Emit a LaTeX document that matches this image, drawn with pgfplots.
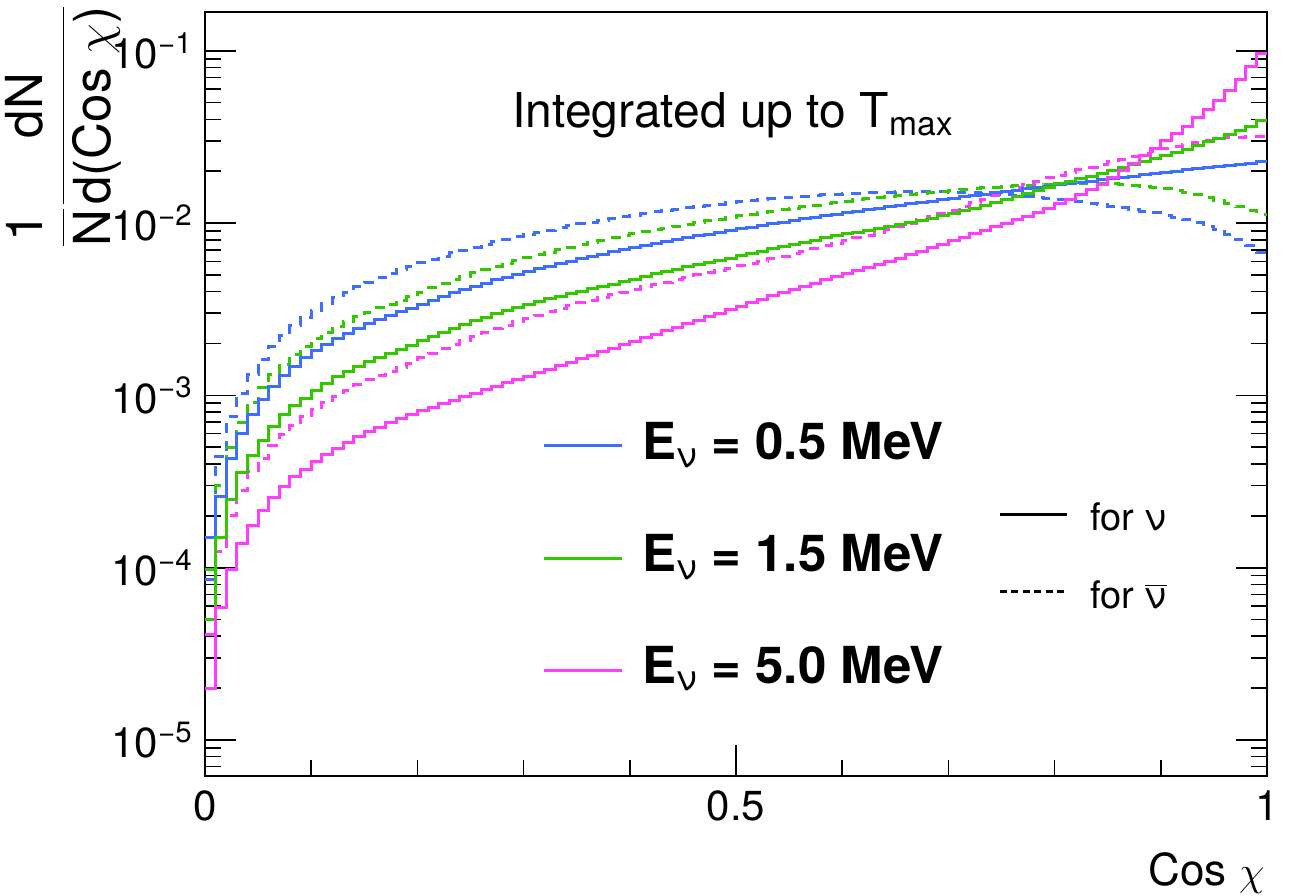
\documentclass[border=0pt]{standalone}
\usepackage{fontspec}
\setmainfont{TeX Gyre Heros}
\usepackage{pgfplots}
\usepackage{pgfplotstable}
\pgfplotsset{compat=1.18}
\definecolor{cblue}{RGB}{60,110,255}
\definecolor{cgreen}{RGB}{50,200,0}
\definecolor{cmag}{RGB}{255,60,255}
\pgfplotstableread{
x bs bd gs gd ms md
0.00 0.085e-3 0.15e-3 0.050e-3 0.097e-3 0.020e-3 0.041e-3
0.01 0.26e-3 0.44e-3 0.150e-3 0.30e-3 0.059e-3 0.124e-3
0.02 0.43e-3 0.75e-3 0.250e-3 0.50e-3 0.097e-3 0.20e-3
0.03 0.60e-3 1.03e-3 0.356e-3 0.70e-3 0.138e-3 0.28e-3
0.04 0.78e-3 1.33e-3 0.45e-3 0.91e-3 0.176e-3 0.36e-3
0.05 0.95e-3 1.62e-3 0.55e-3 1.11e-3 0.216e-3 0.43e-3
0.06 1.13e-3 1.93e-3 0.66e-3 1.32e-3 0.257e-3 0.51e-3
0.07 1.30e-3 2.23e-3 0.78e-3 1.52e-3 0.295e-3 0.59e-3
0.08 1.48e-3 2.53e-3 0.87e-3 1.73e-3 0.340e-3 0.67e-3
0.09 1.65e-3 2.83e-3 0.96e-3 1.93e-3 0.373e-3 0.75e-3
0.10 1.82e-3 3.12e-3 1.07e-3 2.13e-3 0.414e-3 0.83e-3
0.11 1.98e-3 3.41e-3 1.18e-3 2.32e-3 0.455e-3 0.91e-3
0.12 2.14e-3 3.70e-3 1.28e-3 2.50e-3 0.495e-3 0.99e-3
0.13 2.30e-3 3.98e-3 1.38e-3 2.69e-3 0.535e-3 1.07e-3
0.14 2.45e-3 4.26e-3 1.48e-3 2.87e-3 0.575e-3 1.15e-3
0.15 2.60e-3 4.54e-3 1.58e-3 3.04e-3 0.615e-3 1.23e-3
0.16 2.75e-3 4.81e-3 1.67e-3 3.22e-3 0.655e-3 1.31e-3
0.17 2.90e-3 5.08e-3 1.76e-3 3.39e-3 0.695e-3 1.38e-3
0.18 3.05e-3 5.35e-3 1.85e-3 3.57e-3 0.735e-3 1.46e-3
0.19 3.20e-3 5.62e-3 1.94e-3 3.74e-3 0.775e-3 1.54e-3
0.20 3.38e-3 5.90e-3 2.07e-3 3.97e-3 0.813e-3 1.65e-3
0.21 3.57e-3 6.17e-3 2.20e-3 4.21e-3 0.852e-3 1.76e-3
0.22 3.75e-3 6.44e-3 2.33e-3 4.44e-3 0.893e-3 1.87e-3
0.23 3.94e-3 6.71e-3 2.46e-3 4.68e-3 0.935e-3 1.98e-3
0.24 4.12e-3 6.98e-3 2.59e-3 4.91e-3 0.980e-3 2.09e-3
0.25 4.31e-3 7.25e-3 2.72e-3 5.15e-3 1.027e-3 2.20e-3
0.26 4.49e-3 7.52e-3 2.85e-3 5.38e-3 1.076e-3 2.32e-3
0.27 4.68e-3 7.79e-3 2.98e-3 5.62e-3 1.127e-3 2.44e-3
0.28 4.86e-3 8.06e-3 3.11e-3 5.85e-3 1.181e-3 2.56e-3
0.29 5.05e-3 8.33e-3 3.24e-3 6.09e-3 1.237e-3 2.68e-3
0.30 5.24e-3 8.60e-3 3.37e-3 6.32e-3 1.296e-3 2.80e-3
0.31 5.44e-3 8.86e-3 3.50e-3 6.56e-3 1.358e-3 2.92e-3
0.32 5.63e-3 9.12e-3 3.63e-3 6.79e-3 1.423e-3 3.05e-3
0.33 5.83e-3 9.38e-3 3.76e-3 7.03e-3 1.491e-3 3.18e-3
0.34 6.02e-3 9.64e-3 3.89e-3 7.26e-3 1.562e-3 3.31e-3
0.35 6.22e-3 9.90e-3 4.02e-3 7.50e-3 1.637e-3 3.44e-3
0.36 6.41e-3 10.15e-3 4.15e-3 7.73e-3 1.715e-3 3.57e-3
0.37 6.61e-3 10.40e-3 4.28e-3 7.97e-3 1.797e-3 3.70e-3
0.38 6.80e-3 10.65e-3 4.42e-3 8.20e-3 1.883e-3 3.84e-3
0.39 7.00e-3 10.90e-3 4.56e-3 8.44e-3 1.973e-3 3.98e-3
0.40 7.20e-3 11.14e-3 4.73e-3 8.67e-3 2.067e-3 4.12e-3
0.41 7.41e-3 11.38e-3 4.90e-3 8.90e-3 2.166e-3 4.26e-3
0.42 7.61e-3 11.61e-3 5.07e-3 9.13e-3 2.270e-3 4.40e-3
0.43 7.82e-3 11.84e-3 5.24e-3 9.36e-3 2.378e-3 4.55e-3
0.44 8.02e-3 12.06e-3 5.41e-3 9.59e-3 2.492e-3 4.70e-3
0.45 8.23e-3 12.28e-3 5.58e-3 9.82e-3 2.611e-3 4.85e-3
0.46 8.43e-3 12.49e-3 5.75e-3 10.05e-3 2.736e-3 5.00e-3
0.47 8.64e-3 12.70e-3 5.92e-3 10.29e-3 2.867e-3 5.16e-3
0.48 8.84e-3 12.90e-3 6.09e-3 10.53e-3 3.004e-3 5.32e-3
0.49 9.05e-3 13.10e-3 6.26e-3 10.77e-3 3.147e-3 5.48e-3
0.50 9.27e-3 13.29e-3 6.46e-3 11.01e-3 3.30e-3 5.65e-3
0.51 9.49e-3 13.48e-3 6.66e-3 11.25e-3 3.46e-3 5.83e-3
0.52 9.71e-3 13.66e-3 6.87e-3 11.49e-3 3.62e-3 6.02e-3
0.53 9.93e-3 13.84e-3 7.08e-3 11.73e-3 3.79e-3 6.22e-3
0.54 10.15e-3 14.01e-3 7.30e-3 11.97e-3 3.97e-3 6.43e-3
0.55 10.37e-3 14.17e-3 7.52e-3 12.21e-3 4.14e-3 6.65e-3
0.56 10.59e-3 14.32e-3 7.75e-3 12.45e-3 4.31e-3 6.88e-3
0.57 10.81e-3 14.46e-3 7.98e-3 12.69e-3 4.49e-3 7.12e-3
0.58 11.03e-3 14.59e-3 8.22e-3 12.93e-3 4.68e-3 7.37e-3
0.59 11.25e-3 14.71e-3 8.46e-3 13.17e-3 4.88e-3 7.63e-3
0.60 11.49e-3 14.82e-3 8.65e-3 13.41e-3 5.08e-3 7.91e-3
0.61 11.73e-3 14.92e-3 8.86e-3 13.64e-3 5.30e-3 8.21e-3
0.62 11.97e-3 15.01e-3 9.08e-3 13.87e-3 5.52e-3 8.53e-3
0.63 12.21e-3 15.09e-3 9.31e-3 14.09e-3 5.75e-3 8.87e-3
0.64 12.45e-3 15.15e-3 9.55e-3 14.31e-3 5.99e-3 9.23e-3
0.65 12.69e-3 15.20e-3 9.80e-3 14.52e-3 6.25e-3 9.61e-3
0.66 12.93e-3 15.23e-3 10.07e-3 14.73e-3 6.55e-3 10.01e-3
0.67 13.17e-3 15.24e-3 10.36e-3 14.93e-3 6.86e-3 10.43e-3
0.68 13.41e-3 15.23e-3 10.67e-3 15.13e-3 7.19e-3 10.87e-3
0.69 13.65e-3 15.20e-3 11.00e-3 15.32e-3 7.53e-3 11.33e-3
0.70 13.92e-3 15.15e-3 11.36e-3 15.50e-3 7.89e-3 11.85e-3
0.71 14.19e-3 15.08e-3 11.76e-3 15.68e-3 8.27e-3 12.45e-3
0.72 14.46e-3 14.99e-3 12.20e-3 15.85e-3 8.67e-3 13.10e-3
0.73 14.73e-3 14.88e-3 12.67e-3 16.01e-3 9.09e-3 13.80e-3
0.74 15.00e-3 14.75e-3 13.17e-3 16.16e-3 9.53e-3 14.55e-3
0.75 15.27e-3 14.60e-3 13.70e-3 16.30e-3 9.99e-3 15.30e-3
0.76 15.54e-3 14.44e-3 14.26e-3 16.43e-3 10.47e-3 16.05e-3
0.77 15.81e-3 14.27e-3 14.85e-3 16.55e-3 10.97e-3 16.80e-3
0.78 16.08e-3 14.09e-3 15.46e-3 16.66e-3 11.50e-3 17.55e-3
0.79 16.35e-3 13.90e-3 16.10e-3 16.76e-3 12.15e-3 18.30e-3
0.80 16.65e-3 13.70e-3 17.0e-3 16.85e-3 13.0e-3 19.0e-3
0.81 16.95e-3 13.49e-3 17.5e-3 16.92e-3 13.7e-3 19.7e-3
0.82 17.25e-3 13.27e-3 18.1e-3 16.97e-3 14.6e-3 20.4e-3
0.83 17.55e-3 13.04e-3 18.7e-3 17.00e-3 15.6e-3 21.1e-3
0.84 17.85e-3 12.80e-3 19.4e-3 16.98e-3 16.8e-3 21.9e-3
0.85 18.15e-3 12.55e-3 20.2e-3 16.92e-3 18.3e-3 22.7e-3
0.86 18.45e-3 12.29e-3 21.0e-3 16.80e-3 20.1e-3 23.5e-3
0.87 18.75e-3 12.02e-3 21.8e-3 16.62e-3 22.2e-3 24.3e-3
0.88 19.05e-3 11.74e-3 22.7e-3 16.40e-3 24.6e-3 25.2e-3
0.89 19.35e-3 11.45e-3 23.6e-3 16.13e-3 27.2e-3 26.1e-3
0.90 19.68e-3 11.14e-3 24.6e-3 15.82e-3 30.0e-3 27.0e-3
0.91 20.01e-3 10.81e-3 25.7e-3 15.45e-3 33.0e-3 27.9e-3
0.92 20.34e-3 10.46e-3 26.9e-3 15.03e-3 36.6e-3 28.7e-3
0.93 20.67e-3 10.06e-3 28.2e-3 14.57e-3 40.8e-3 29.5e-3
0.94 21.00e-3 9.62e-3 29.6e-3 14.07e-3 45.8e-3 30.2e-3
0.95 21.33e-3 9.14e-3 31.1e-3 13.55e-3 51.7e-3 30.8e-3
0.96 21.66e-3 8.62e-3 32.7e-3 13.00e-3 59.0e-3 31.3e-3
0.97 21.99e-3 8.05e-3 34.5e-3 12.43e-3 68.5e-3 31.6e-3
0.98 22.32e-3 7.42e-3 36.6e-3 11.85e-3 81.5e-3 31.8e-3
0.99 22.65e-3 6.75e-3 39.3e-3 11.25e-3 96.0e-3 31.8e-3
1.00 22.65e-3 6.75e-3 39.3e-3 11.25e-3 96.0e-3 31.8e-3
}\histdata
\begin{document}
\begin{tikzpicture}
\path[use as bounding box] (-102.5pt,-59.5pt) rectangle (542.5pt,388pt);
\begin{axis}[
  at={(0pt,0pt)}, anchor=south west,
  scale only axis, width=531pt, height=382pt,
  xmin=0, xmax=1, ymin=6.18e-6, ymax=0.168,
  ymode=log,
  axis line style={line width=1pt},
  tick style={black, line width=0.8pt},
  major tick length=15.5pt, minor tick length=8pt,
  tick align=inside,
  xtick={0,0.5,1}, xticklabels={0,0.5,1},
  minor xtick={0.1,0.2,0.3,0.4,0.6,0.7,0.8,0.9},
  ytick={1e-5,1e-4,1e-3,1e-2,1e-1},
  yticklabels={10\textsuperscript{−5},10\textsuperscript{−4},10\textsuperscript{−3},10\textsuperscript{−2},10\textsuperscript{−1}},
  minor ytick={7e-6,8e-6,9e-6,2e-5,3e-5,4e-5,5e-5,6e-5,7e-5,8e-5,9e-5,2e-4,3e-4,4e-4,5e-4,6e-4,7e-4,8e-4,9e-4,2e-3,3e-3,4e-3,5e-3,6e-3,7e-3,8e-3,9e-3,2e-2,3e-2,4e-2,5e-2,6e-2,7e-2,8e-2,9e-2},
  xtick pos=bottom, ytick pos=both,
  ticklabel style={font=\fontsize{21}{25}\selectfont},
  yticklabel style={anchor=east, inner sep=0pt, xshift=-6pt},
  xticklabel style={anchor=north, inner sep=0pt, yshift=-7pt},
]
\addplot[const plot, cblue, line width=1.5pt, dash pattern=on 5pt off 4pt] table[x=x,y=bd]{\histdata};
\addplot[const plot, cgreen, line width=1.5pt, dash pattern=on 5pt off 4pt] table[x=x,y=gd]{\histdata};
\addplot[const plot, cmag, line width=1.5pt, dash pattern=on 5pt off 4pt] table[x=x,y=md]{\histdata};
\addplot[const plot, cblue, line width=1.5pt] table[x=x,y=bs]{\histdata};
\addplot[const plot, cgreen, line width=1.5pt] table[x=x,y=gs]{\histdata};
\addplot[const plot, cmag, line width=1.5pt] table[x=x,y=ms]{\histdata};
\end{axis}
% y title
\node[rotate=90, anchor=east, inner sep=0pt, font=\fontsize{25.5}{30}\selectfont] at (-71pt,386pt)
  {$\displaystyle\frac{\hbox{1}}{\hbox{N}}\frac{\hbox{dN}}{\hbox{d(Cos $\chi$)}}$};
% x title
\node[anchor=base east, inner sep=0pt, font=\fontsize{22}{26}\selectfont] at (530pt,-54.5pt) {Cos $\chi$};
% annotation
\node[anchor=base west, inner sep=0pt, font=\fontsize{24}{28}\selectfont] at (153.5pt,324pt) {Integrated up to T\textsubscript{max}};
% energy legend
\draw[cblue, line width=1.5pt] (169.5pt,165.15pt) -- (208.35pt,165.15pt);
\draw[cgreen, line width=1.5pt] (169.5pt,108.85pt) -- (208.35pt,108.85pt);
\draw[cmag, line width=1.5pt] (169.5pt,52.65pt) -- (208.35pt,52.65pt);
\node[anchor=base west, inner sep=0pt, font=\fontsize{25.5}{30}\selectfont\bfseries] at (218.35pt,158pt) {E\textsubscript{\mdseries ν} = 0.5 MeV};
\node[anchor=base west, inner sep=0pt, font=\fontsize{25.5}{30}\selectfont\bfseries] at (218.35pt,102.15pt) {E\textsubscript{\mdseries ν} = 1.5 MeV};
\node[anchor=base west, inner sep=0pt, font=\fontsize{25.5}{30}\selectfont\bfseries] at (218.35pt,46.35pt) {E\textsubscript{\mdseries ν} = 5.0 MeV};
% style legend
\draw[black, line width=1.5pt] (397.5pt,130.85pt) -- (431pt,130.85pt);
\draw[black, line width=1.5pt, dash pattern=on 3.5pt off 2.2pt] (397.5pt,92.15pt) -- (431pt,92.15pt);
\node[anchor=base west, inner sep=0pt, font=\fontsize{19}{23}\selectfont] at (442.5pt,123pt) {for ν};
\node[anchor=base west, inner sep=0pt, font=\fontsize{19}{23}\selectfont] at (442.5pt,83.85pt) {for $\overline{\hbox{ν}}$};
\end{tikzpicture}
\end{document}
